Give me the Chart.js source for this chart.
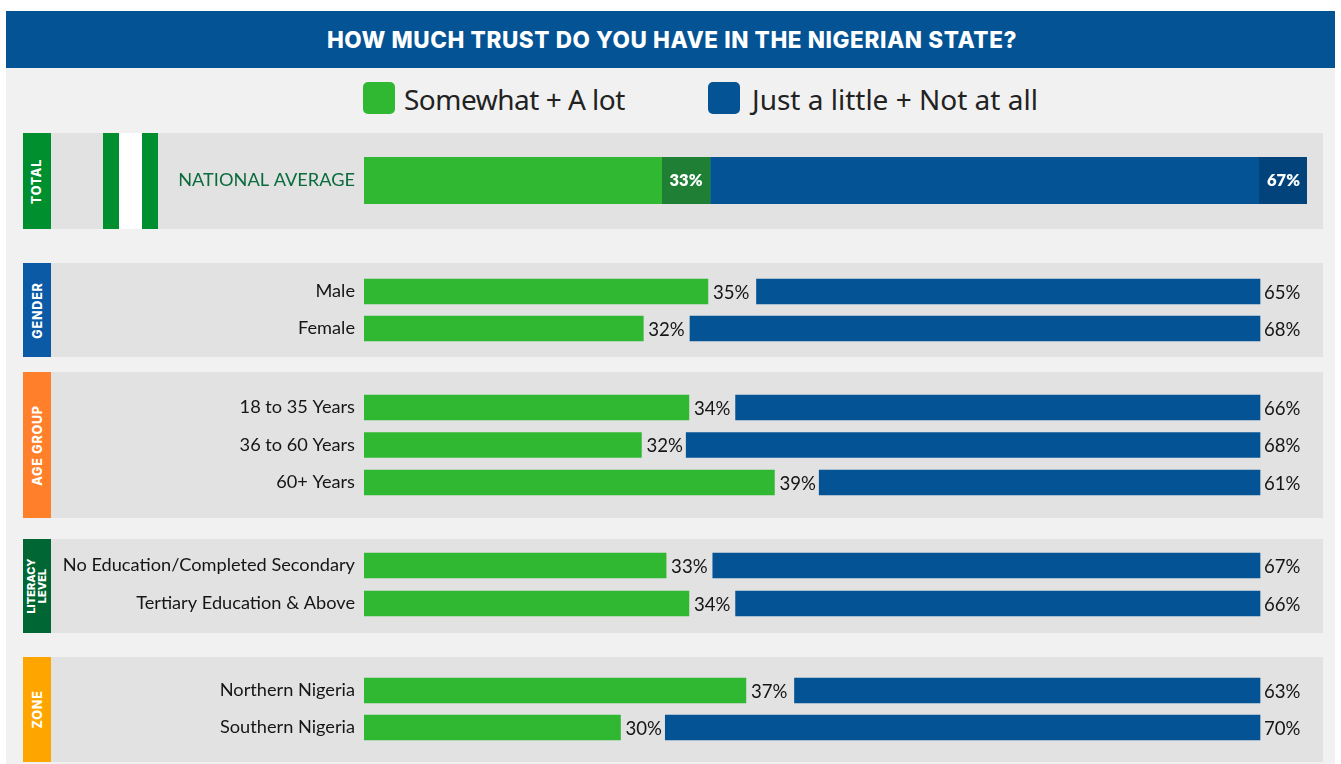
<!DOCTYPE html>
<html>
<head>
<meta charset="utf-8">
<script src="https://cdn.jsdelivr.net/npm/chart.js@4"></script>
<style>
html,body{margin:0;padding:0;background:#fff;width:1341px;height:764px;overflow:hidden;font-family:Lato,sans-serif}
#page{position:absolute;left:6px;top:68px;width:1329px;height:696px;background:#f1f1f1}
#head{position:absolute;left:6px;top:11px;width:1329px;height:57px;background:#035395;color:#fff;font:800 22.5px/57px Inter,sans-serif;letter-spacing:0.6px;text-align:center;padding-left:3px;box-sizing:border-box;white-space:nowrap}
.sw{position:absolute;top:82px;width:32px;height:32px;border-radius:5px}
.lg{position:absolute;top:81px;font:28px/36px "Noto Sans",sans-serif;color:#222;white-space:nowrap}
.panel{position:absolute;left:23px;width:1300px;background:#e2e2e2}
.strip{position:absolute;left:0;top:0;bottom:0;width:28px;color:#fff;font:800 12.5px/11px Inter,sans-serif;letter-spacing:0.8px;display:flex;align-items:center;justify-content:center;text-align:center}
.strip.small{font-size:11px;letter-spacing:0}
.strip span{display:block;transform:rotate(-90deg);white-space:nowrap}
.panel canvas{position:absolute;left:28px;top:0}
.fl{position:absolute;top:133px;height:96px}
</style>
</head>
<body>
<div id="page"></div>
<div id="head">HOW MUCH TRUST DO YOU HAVE IN THE NIGERIAN STATE?</div>
<div class="sw" style="left:363px;background:#30b832"></div><div class="lg" style="left:404px;letter-spacing:-0.5px">Somewhat + A lot</div>
<div class="sw" style="left:708px;background:#035395"></div><div class="lg" style="left:752px">Just a little + Not at all</div>
<div id="panels"></div>
<script>
// Data: legend series, categories and estimated shares (%), labels print the rounded share
const seriesNames = ['Somewhat + A lot', 'Just a little + Not at all'];
const totalCats = ['NATIONAL AVERAGE'];
const totalTrust = [33];
const totalNoTrust = [67];
const genderCats = ['Male', 'Female'];
const genderTrust = [35.0, 31.6];
const genderNoTrust = [64.7, 68.2];
const ageCats = ['18 to 35 Years', '36 to 60 Years', '60+ Years'];
const ageTrust = [34.0, 31.5, 38.5];
const ageNoTrust = [65.8, 68.4, 61.4];
const literacyCats = ['No Education/Completed Secondary', 'Tertiary Education & Above'];
const literacyTrust = [32.8, 34.0];
const literacyNoTrust = [67.0, 65.8];
const zoneCats = ['Northern Nigeria', 'Southern Nigeria'];
const zoneTrust = [37.0, 30.4];
const zoneNoTrust = [62.7, 69.5];

// Styling and layout
const GREEN = '#30b832', BLUE = '#035395', DARK_GREEN = '#1f7f35', DARK_BLUE = '#03437c';
const PX_PER_PCT = 19;          // same drawing scale for every bar
const AREA_LEFT = 313;          // chart-area start inside the canvas
const CANVAS_W = 1272;

const groups = [
 {name:'TOTAL', color:'#008f2f', top:133, h:96, cats:totalCats, a:totalTrust, b:totalNoTrust, first:180.5, gap:47, bar:47, total:true},
 {name:'GENDER', color:'#0b5aa5', top:263, h:94, cats:genderCats, a:genderTrust, b:genderNoTrust, first:291.5, gap:37, bar:25},
 {name:'AGE GROUP', color:'#ff7f2a', top:372, h:146, cats:ageCats, a:ageTrust, b:ageNoTrust, first:407.5, gap:37.5, bar:25},
 {name:'LITERACY<br>LEVEL', small:true, color:'#006633', top:539, h:94, cats:literacyCats, a:literacyTrust, b:literacyNoTrust, first:565.5, gap:38, bar:25},
 {name:'ZONE', color:'#ffa500', top:657, h:105, cats:zoneCats, a:zoneTrust, b:zoneNoTrust, first:690.5, gap:37, bar:25}
];

const labelPlugin = {
  id:'barEnds',
  afterDatasetsDraw(chart, _a, opts){
    const c = chart.ctx;
    const A = chart.getDatasetMeta(0), B = chart.getDatasetMeta(1);
    c.save();
    c.textBaseline = 'middle';
    const pct = v => Math.round(v) + '%';
    chart.data.labels.forEach((_, i) => {
      const a = A.data[i], b = B.data[i];
      const va = chart.data.datasets[0].data[i], vb = chart.data.datasets[1].data[i];
      if (opts.total) {
        const w = 48, h = opts.bar;
        c.fillStyle = DARK_GREEN; c.fillRect(a.x - w, a.y - h/2, w, h);
        c.fillStyle = DARK_BLUE; c.fillRect(b.base - w, b.y - h/2, w, h);
        c.fillStyle = '#fff'; c.font = '800 16.5px Lato, sans-serif'; c.textAlign = 'center';
        c.fillText(pct(va), a.x - w/2, a.y);
        c.fillText(pct(vb), b.base - w/2 + 0.5, b.y);
      } else {
        c.fillStyle = '#151515'; c.font = '18.6px Lato, sans-serif'; c.textAlign = 'left';
        c.fillText(pct(va), a.x + 5, a.y + 1);
        c.fillText(pct(vb), b.base + 4, b.y + 1);
      }
    });
    c.restore();
  }
};

const holder = document.getElementById('panels');
groups.forEach(g => {
  const p = document.createElement('div');
  p.className = 'panel';
  p.style.top = g.top + 'px'; p.style.height = g.h + 'px';
  p.innerHTML = '<div class="strip' + (g.small ? ' small' : '') + '" style="background:' + g.color + '"><span>' + g.name + '</span></div>';
  const cv = document.createElement('canvas');
  cv.width = CANVAS_W; cv.height = g.h;
  p.appendChild(cv);
  holder.appendChild(p);

  const areaTop = g.first - g.gap/2 - g.top;
  const areaBottom = g.h - areaTop - g.gap * g.cats.length;
  const right = g.total ? 1307 : 1306;           // page x of the chart-area end
  const areaW = right - 364;
  const span = areaW / PX_PER_PCT;
  // Bars grow from a truncated origin: green from the left, blue from the right.
  const aMin = g.total ? 33 - 346 / PX_PER_PCT : 16.9;
  const bBase = g.total ? 67 - 597 / PX_PER_PCT : 38.2;
  const bMin = g.total ? bBase : bBase - 46 / PX_PER_PCT;

  new Chart(cv, {
    type:'bar',
    plugins:[labelPlugin],
    data:{
      labels:g.cats,
      datasets:[
        {label:seriesNames[0], data:g.a, backgroundColor:GREEN, xAxisID:'xA', base:aMin, grouped:false, barThickness:g.bar},
        {label:seriesNames[1], data:g.b, backgroundColor:BLUE, xAxisID:'xB', base:bBase, grouped:false, barThickness:g.bar}
      ]
    },
    options:{
      indexAxis:'y', responsive:false, animation:false, devicePixelRatio:1,
      layout:{padding:{top:areaTop, bottom:areaBottom, left:0, right:CANVAS_W - (right - 51)}},
      plugins:{legend:{display:false}, tooltip:{enabled:false},
        barEnds:{total:!!g.total, bar:g.bar}},
      scales:{
        xA:{type:'linear', axis:'x', display:false, min:aMin, max:aMin + span},
        xB:{type:'linear', axis:'x', display:false, reverse:true, min:bMin, max:bMin + span},
        y:{
          type:'category', offset:true,
          grid:{display:false, drawTicks:false}, border:{display:false},
          afterFit(s){ s.width = AREA_LEFT; s.paddingTop = 0; s.paddingBottom = 0; },
          ticks:{autoSkip:false, padding:9, color:g.total ? '#0a6b3c' : '#151515',
            font:{family:'Lato, sans-serif', size:18.2}}
        }
      }
    }
  });
});
// Nigerian flag beside the national average
[[103,16,'#008f2f'],[119,23,'#fff'],[142,16,'#008f2f']].forEach(f => {
  const d = document.createElement('div');
  d.className = 'fl';
  d.style.cssText = 'left:' + f[0] + 'px;width:' + f[1] + 'px;background:' + f[2];
  document.body.appendChild(d);
});
</script>
</body>
</html>
